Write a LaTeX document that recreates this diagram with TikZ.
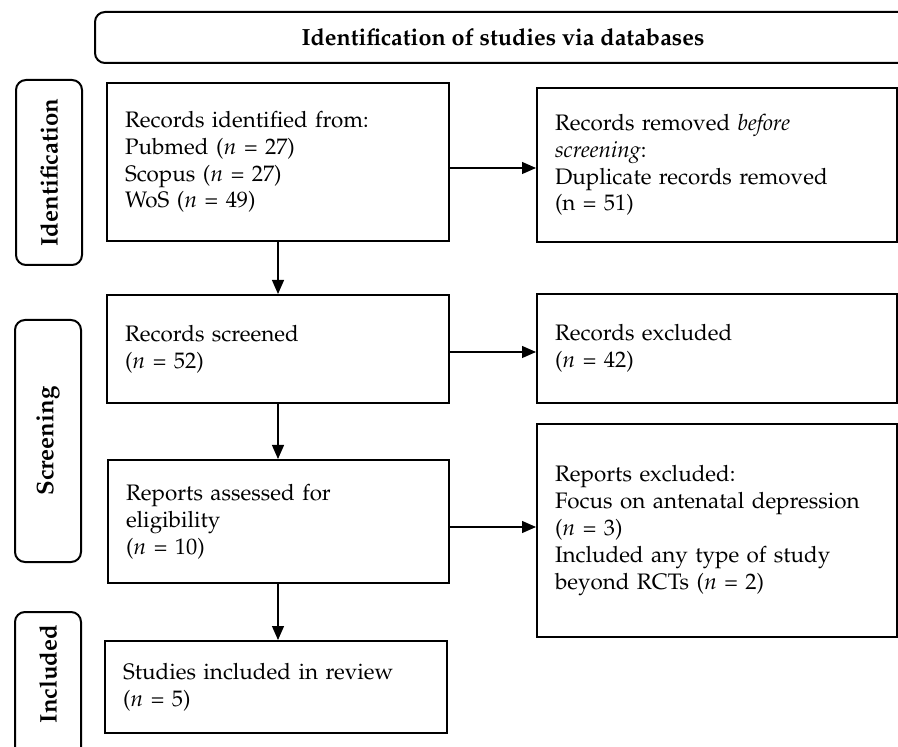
\documentclass[tikz,border=0pt]{standalone}
\usepackage[T1]{fontenc}
\usepackage{mathpazo}
\usepackage{tikz}
\usetikzlibrary{positioning, arrows.meta}

\begin{document}
\begin{tikzpicture}[x=0.5pt, y=-0.5pt,
    box/.style={draw, line width=1pt, rectangle, align=left, inner xsep=9pt, font=\fontsize{11.2}{13.4}\selectfont},
    phase/.style={draw, line width=1pt, rounded corners=5pt, rotate=90, minimum height=33pt, font=\fontsize{12}{14}\selectfont\bfseries},
    flow/.style={-{Triangle[length=7pt, width=6pt]}, line width=0.6pt}]
    \useasboundingbox (0,0) rectangle (898,747);
    \clip (0,0) rectangle (898,747);

    % Header
    \node[draw, line width=1pt, rounded corners=5pt, minimum width=408pt, minimum height=25.5pt, font=\fontsize{11.7}{14}\selectfont\bfseries] (header) at (503,37.5) {Identification of studies via databases};

    % Phases
    \node[phase, minimum width=92.5pt] (idphase) at (49,172.5) {Identification};
    \node[phase, minimum width=121pt] (scphase) at (48,441) {Screening};
    \draw[line width=1pt, rounded corners=5pt] (15,800) rectangle (81,612);
    \node[phase, draw=none] (inphase) at (48,674) {Included};

    % Left column
    \node[box, text width=153pt, minimum height=79pt] (identified) at (278,162) {Records identified from:\\ Pubmed ($n$ = 27)\\ Scopus ($n$ = 27)\\ WoS ($n$ = 49)};
    \node[box, text width=153pt, minimum height=54pt] (screened) at (278,349) {Records screened\\ ($n$ = 52)};
    \node[box, text width=152.5pt, minimum height=61.5pt] (assessed) at (278.5,521.5) {Reports assessed for\\ eligibility\\ ($n$ = 10)};
    \node[box, text width=153pt, minimum height=46pt] (included) at (276,687) {Studies included in review\\ ($n$ = 5)};

    % Right column
    \node[box, text width=162pt, minimum height=77pt] (removed) at (717,165) {Records removed \textit{before}\\ \textit{screening}:\\ Duplicate records removed\\ (n = 51)};
    \node[box, text width=162pt, minimum height=54.5pt] (excluded) at (717,348.5) {Records excluded\\ ($n$ = 42)};
    \node[box, text width=162pt, minimum height=106.5pt] (repexcluded) at (717,530.5) {Reports excluded:\\ Focus on antenatal depression\\ ($n$ = 3)\\ Included any type of study\\ beyond RCTs ($n$ = 2)};

    % Down edges
    \draw[flow] (identified.south) -- (identified.south |- screened.north);
    \draw[flow] (screened.south) -- (screened.south |- assessed.north);
    \draw[flow] (screened.south |- assessed.south) -- (screened.south |- included.north);

    % Side edges
    \draw[flow] ([yshift=-3pt]identified.east) -- ([yshift=-3pt]identified.east -| removed.west);
    \draw[flow] ([yshift=-1.5pt]screened.east) -- ([yshift=-1.5pt]screened.east -| excluded.west);
    \draw[flow] ([yshift=-2.75pt]assessed.east) -- ([yshift=-2.75pt]assessed.east -| repexcluded.west);
\end{tikzpicture}
\end{document}
